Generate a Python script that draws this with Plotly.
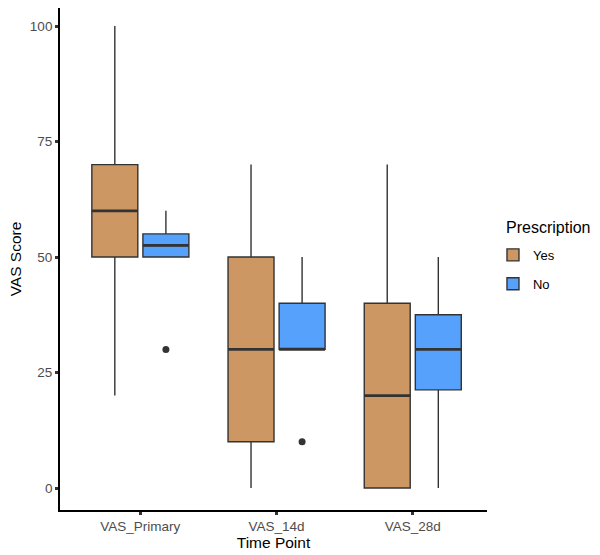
import plotly.graph_objects as go

categories = ["VAS_Primary", "VAS_14d", "VAS_28d"]
groups = ["Yes", "No"]

yes_low = [20, 0, 0]
yes_q1 = [50, 10, 0]
yes_median = [60, 30, 20]
yes_q3 = [70, 50, 40]
yes_high = [100, 70, 70]

no_low = [50, 30, 0]
no_q1 = [50, 30, 21.25]
no_median = [52.5, 30, 30]
no_q3 = [55, 40, 37.5]
no_high = [60, 50, 50]

no_outlier_cat = ["VAS_Primary", "VAS_14d"]
no_outlier_val = [30, 10]

y_ticks = [0, 25, 50, 75, 100]

colors = {"Yes": "#CD9763", "No": "#55A1FB"}
dark = "#333333"
dodge = 0.75
box_w = dodge / 2 * 0.9

stats = {
    "Yes": dict(low=yes_low, q1=yes_q1, med=yes_median, q3=yes_q3, high=yes_high),
    "No": dict(low=no_low, q1=no_q1, med=no_median, q3=no_q3, high=no_high),
}

pos = {c: i + 1 for i, c in enumerate(categories)}
offset = {"Yes": -dodge / 4, "No": dodge / 4}

fig = go.Figure()
for g in groups:
    s = stats[g]
    xs = [pos[c] + offset[g] for c in categories]
    fig.add_trace(go.Box(
        name=g, legendgroup=g, x=xs,
        q1=s["q1"], median=s["med"], q3=s["q3"],
        lowerfence=s["low"], upperfence=s["high"],
        width=box_w, whiskerwidth=0,
        fillcolor=colors[g], line=dict(color=dark, width=1.4),
        boxpoints=False, hoverinfo="skip",
    ))

for g in groups:
    s = stats[g]
    mx, my = [], []
    for c, m in zip(categories, s["med"]):
        x0 = pos[c] + offset[g]
        mx += [x0 - box_w / 2, x0 + box_w / 2, None]
        my += [m, m, None]
    fig.add_trace(go.Scatter(x=mx, y=my, mode="lines",
                             line=dict(color=dark, width=2.8),
                             showlegend=False, hoverinfo="skip"))

fig.add_trace(go.Scatter(
    x=[pos[c] + offset["No"] for c in no_outlier_cat], y=no_outlier_val,
    mode="markers", marker=dict(color=dark, size=7),
    showlegend=False, hoverinfo="skip"))

font_family = "Liberation Sans, Arial, Helvetica, sans-serif"
fig.update_layout(
    width=600, height=555,
    margin=dict(l=60, r=113, t=8, b=45, autoexpand=False),
    paper_bgcolor="white", plot_bgcolor="white",
    boxmode="overlay",
    font=dict(family=font_family, color="black"),
    legend=dict(
        font=dict(size=13, color="black"),
        x=1.014, xanchor="left", y=0.538, yanchor="top",
        traceorder="grouped", tracegroupgap=9,
    ),
    annotations=[dict(
        text="Prescription", xref="paper", yref="paper",
        x=1.04, y=0.5618, xanchor="left", yanchor="middle",
        showarrow=False, font=dict(size=16, color="black"),
    )],
    xaxis=dict(
        range=[0.41, 3.545], automargin=False,
        tickvals=[pos[c] for c in categories], ticktext=categories,
        showgrid=False, zeroline=False,
        showline=True, linecolor="black", linewidth=1.8,
        ticks="outside", ticklen=3, tickwidth=2.5, tickcolor=dark,
        tickfont=dict(size=13.5, color="#4D4D4D"),
        title=dict(text="Time Point", font=dict(size=15.5, color="black"), standoff=4),
    ),
    yaxis=dict(
        range=[-4.76, 103.9], automargin=False,
        tickvals=y_ticks,
        showgrid=False, zeroline=False,
        showline=True, linecolor="black", linewidth=1.8,
        ticks="outside", ticklen=3, tickwidth=2.5, tickcolor=dark,
        tickfont=dict(size=13.5, color="#4D4D4D"),
        title=dict(text="VAS Score", font=dict(size=15.5, color="black"), standoff=4),
    ),
)

fig.write_html("out.html", config={"displayModeBar": False},
               post_script="document.body.style.margin='0';document.body.style.padding='0';")
